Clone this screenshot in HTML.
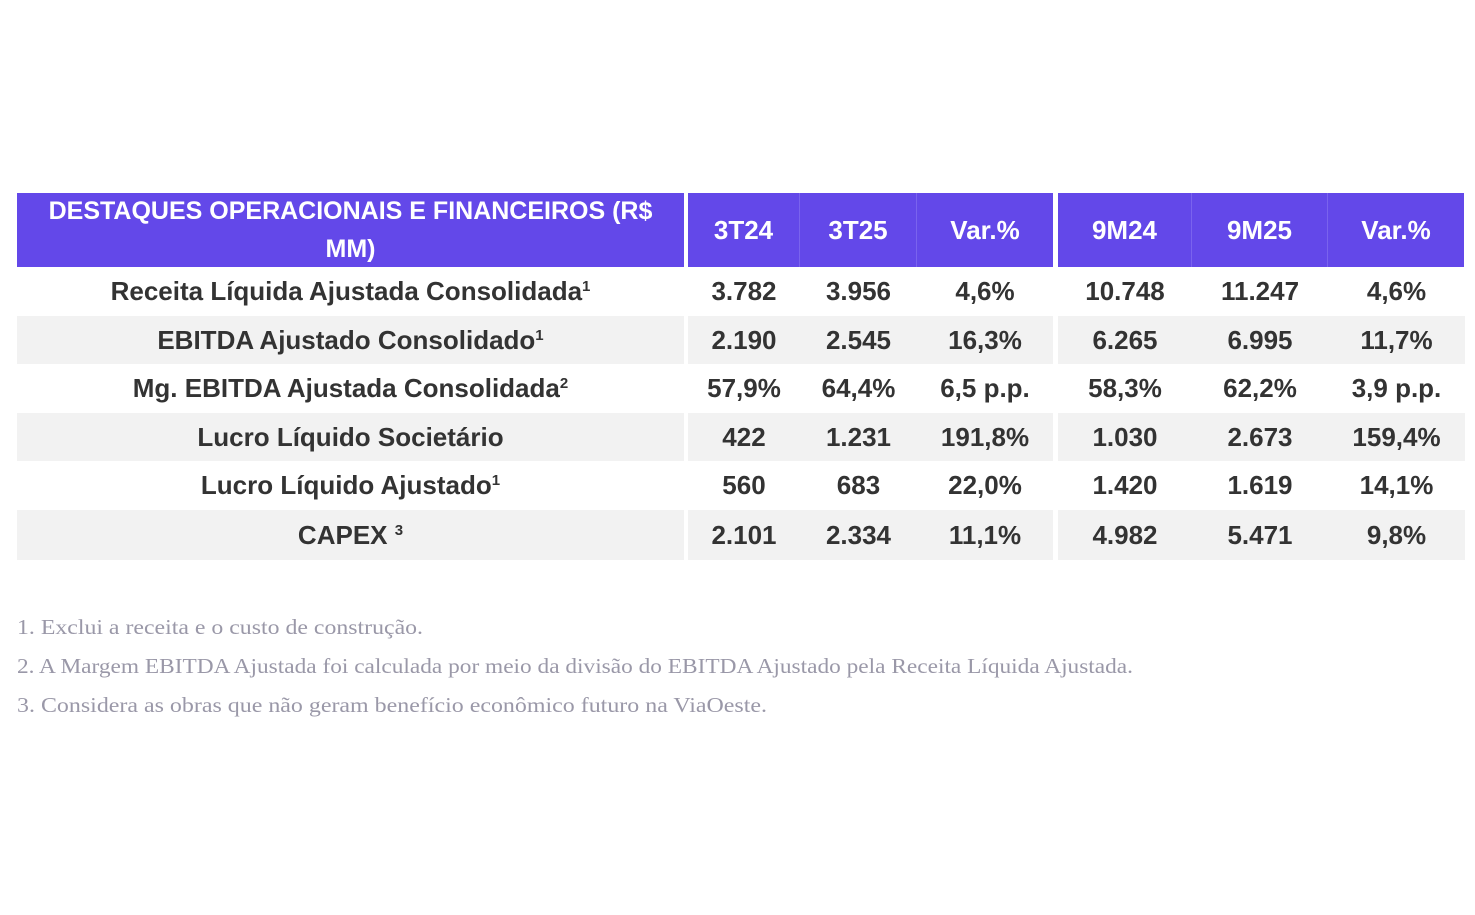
<!DOCTYPE html>
<html><head><meta charset="utf-8"><style>
body{margin:0;width:1475px;height:915px;background:#fff;position:relative;overflow:hidden;font-family:"Liberation Sans Narrow","Liberation Sans",sans-serif;}
.c{position:absolute;display:flex;align-items:center;justify-content:center;font-weight:bold;color:#333;font-size:26px;box-sizing:border-box;white-space:nowrap}
.h{background:#6348E9;color:#fff;text-align:center}
.g{background:#f2f2f2}
.fn{position:absolute;left:17px;font-family:"Liberation Serif",serif;font-size:21px;color:#9a98a8;white-space:nowrap;transform-origin:0 50%}
sup{font-size:15px;vertical-align:9px;line-height:0}
</style></head><body>
<div id="tbl"></div>
<div class="fn" style="top:615px" data-fw="406">1. Exclui a receita e o custo de construção.</div>
<div class="fn" style="top:654px" data-fw="1116">2. A Margem EBITDA Ajustada foi calculada por meio da divisão do EBITDA Ajustado pela Receita Líquida Ajustada.</div>
<div class="fn" style="top:693px" data-fw="750">3. Considera as obras que não geram benefício econômico futuro na ViaOeste.</div>
<script>
const headers=["3T24","3T25","Var.%","9M24","9M25","Var.%"];
const labels=["Receita Líquida Ajustada Consolidada<sup>1</sup>","EBITDA Ajustado Consolidado<sup>1</sup>","Mg. EBITDA Ajustada Consolidada<sup>2</sup>","Lucro Líquido Societário","Lucro Líquido Ajustado<sup>1</sup>","CAPEX <sup>3</sup>"];
const values=[["3.782","3.956","4,6%","10.748","11.247","4,6%"],["2.190","2.545","16,3%","6.265","6.995","11,7%"],["57,9%","64,4%","6,5 p.p.","58,3%","62,2%","3,9 p.p."],["422","1.231","191,8%","1.030","2.673","159,4%"],["560","683","22,0%","1.420","1.619","14,1%"],["2.101","2.334","11,1%","4.982","5.471","9,8%"]];
const colX=[688,800,917,1058,1192,1328,1464];
const rowY=[267,316,365,413,462,510,560];
const t=document.getElementById('tbl');
function cell(x,y,w,h,html,cls){const d=document.createElement('div');d.className='c '+cls;d.style.left=x+'px';d.style.top=y+'px';d.style.width=w+'px';d.style.height=h+'px';d.innerHTML='<span>'+html+'</span>';t.appendChild(d);return d;}
let hd=cell(17,193,667,74,'DESTAQUES OPERACIONAIS E FINANCEIROS (R$<br>MM)','h');


hd.style.lineHeight='38px';hd.style.fontSize='25px';
for(let j=0;j<6;j++){const x=colX[j],w=(j==2?1053:j==5?1464:colX[j+1])-x;
 const d=cell(x,193,w,74,headers[j],'h');
 
 
 if(j!=2&&j!=5)d.style.borderRight='1px solid #7a63ee';}
for(let i=0;i<labels.length;i++){const y=rowY[i],h=rowY[i+1]-y-(i<5?1:0),g=i%2?'g':'';
 const l=cell(17,y,667,h,labels[i],g);
 
 
 for(let j=0;j<6;j++){const x=colX[j],w=(j==2?1053:j==5?1465:colX[j+1])-x;
  const d=cell(x,y,w,h,values[i][j],g);
  
  }}
document.querySelectorAll('.fn').forEach(e=>{const w=e.getBoundingClientRect().width;e.style.transform='scaleX('+(+e.dataset.fw/w)+')';});
</script>
</body></html>
